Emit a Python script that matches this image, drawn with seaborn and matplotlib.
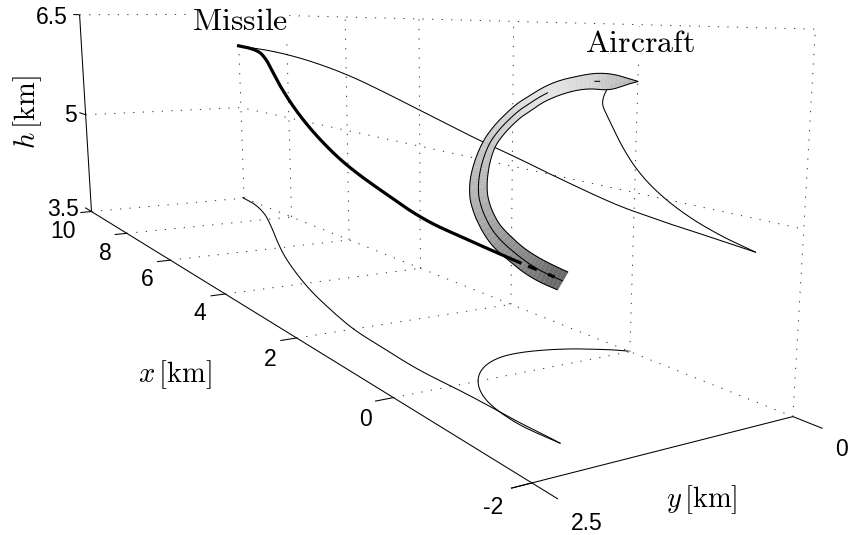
import numpy as np
import matplotlib
matplotlib.use("Agg")
import matplotlib.pyplot as plt
import seaborn as sns
from mpl_toolkits.mplot3d.art3d import Poly3DCollection

# ---- data (km) ----
missile_x = [10.08,9.33,8.48,7.42,6.47,5.67,5.00,4.35,3.84,3.33,2.92,2.49,2.11,1.78,1.50,1.23,0.96,0.71,0.48,0.26,0.07,-0.13,-0.33,-0.51,-0.70,-0.87,-1.04,-1.20,-1.36,-1.52]
missile_y = [0.00,0.04,0.23,0.56,0.87,1.12,1.30,1.46,1.58,1.68,1.75,1.82,1.88,1.91,1.92,1.93,1.95,1.96,1.96,1.96,1.94,1.94,1.93,1.93,1.93,1.93,1.93,1.92,1.91,1.91]
missile_h = [6.00,5.98,5.97,5.90,5.81,5.71,5.60,5.49,5.41,5.32,5.25,5.18,5.13,5.08,5.03,4.99,4.95,4.91,4.88,4.85,4.83,4.82,4.80,4.79,4.78,4.77,4.76,4.75,4.74,4.73]
aircraft_x = [0.02,0.07,0.12,0.17,0.21,0.25,0.30,0.34,0.37,0.40,0.43,0.45,0.47,0.49,0.50,0.50,0.50,0.47,0.41,0.33,0.21,0.04,-0.12,-0.30,-0.44,-0.58,-0.70,-0.81,-0.91,-1.02,-1.11,-1.19,-1.27,-1.35,-1.44,-1.52]
aircraft_y = [0.00,0.04,0.09,0.15,0.21,0.27,0.33,0.39,0.46,0.52,0.59,0.66,0.73,0.81,0.88,0.98,1.07,1.17,1.29,1.41,1.54,1.66,1.76,1.83,1.88,1.91,1.93,1.94,1.95,1.96,1.95,1.95,1.94,1.93,1.92,1.91]
aircraft_h = [6.00,6.00,5.99,5.98,5.98,5.97,5.96,5.95,5.94,5.93,5.92,5.89,5.86,5.83,5.80,5.77,5.74,5.71,5.65,5.55,5.40,5.24,5.14,5.05,4.99,4.94,4.90,4.87,4.84,4.82,4.80,4.78,4.77,4.76,4.74,4.73]
wing_a_y = [-0.02,0.03,0.08,0.13,0.21,0.28,0.35,0.42,0.48,0.54,0.62,0.70,0.76,0.80,0.86,0.92,0.98,1.05,1.26,1.42,1.58,1.75,1.85,1.91,1.95,1.99,2.00,2.01,2.00,2.01,2.01,2.00,1.99,1.97,1.95,1.96]
wing_a_h = [6.00,6.02,6.04,6.06,6.07,6.07,6.06,6.04,6.03,6.01,5.99,5.95,5.92,5.89,5.86,5.83,5.80,5.77,5.65,5.55,5.42,5.25,5.13,5.03,4.97,4.91,4.86,4.82,4.79,4.77,4.74,4.72,4.70,4.68,4.67,4.67]
wing_b_y = [-0.02,0.03,0.07,0.14,0.22,0.27,0.33,0.39,0.44,0.50,0.57,0.63,0.68,0.73,0.77,0.83,0.90,0.96,1.16,1.31,1.44,1.57,1.68,1.75,1.80,1.85,1.87,1.88,1.89,1.90,1.90,1.90,1.91,1.90,1.88,1.87]
wing_b_h = [6.00,5.98,5.96,5.92,5.92,5.93,5.93,5.92,5.91,5.89,5.87,5.84,5.82,5.79,5.76,5.73,5.70,5.68,5.57,5.48,5.38,5.23,5.15,5.07,5.02,4.98,4.95,4.92,4.89,4.87,4.85,4.84,4.83,4.82,4.80,4.79]
ribbon_gray = [0.72,0.73,0.75,0.76,0.79,0.83,0.84,0.85,0.86,0.88,0.89,0.89,0.89,0.89,0.88,0.88,0.86,0.84,0.82,0.79,0.76,0.73,0.70,0.67,0.65,0.62,0.60,0.57,0.55,0.52,0.50,0.47,0.45,0.42,0.39]
x_ticks = [10, 8, 6, 4, 2, 0, -2]
h_ticks = [3.5, 5, 6.5]
x_tick_labels = ["10", "8", "6", "4", "2", "0", "-2"]
h_tick_labels = ["3.5", "5", "6.5"]
y_tick_labels = ["2.5", "0"]

# camera of the reference view: data (x, y, h) -> figure pixels
CAMERA = np.array([[-18.354369, -106.56592, -7.530348, 619.767019],
                   [0.12659, -0.333675, -103.111264, 692.20972],
                   [0.073691, -0.044363, -0.016544, 1.0]])

W, H = 848, 535
K = 6  # drawn vertices per read value


def curve(values, passes=2):
    """Even out reading noise, then draw the read values as a smooth curve."""
    a = np.array(values, float)
    for _ in range(passes):
        a[1:-1] = (a[:-2] + 2 * a[1:-1] + a[2:]) / 4
    p = np.r_[2 * a[0] - a[1], a, 2 * a[-1] - a[-2]]
    out = []
    for i in range(len(a) - 1):
        for f in np.arange(K) / K:
            p0, p1, p2, p3 = p[i], p[i + 1], p[i + 2], p[i + 3]
            out.append(0.5 * (2 * p1 + (p2 - p0) * f + (2 * p0 - 5 * p1 + 4 * p2 - p3) * f ** 2
                              + (3 * p1 - p0 - 3 * p2 + p3) * f ** 3))
    out.append(a[-1])
    return np.array(out)


mx, my, mh = curve(missile_x, 1), curve(missile_y, 1), curve(missile_h, 1)
ax_, ay_, ah_ = curve(aircraft_x), curve(aircraft_y), curve(aircraft_h)
ua, ha = curve(wing_a_y, 1), curve(wing_a_h, 1)
ub, hb = curve(wing_b_y, 1), curve(wing_b_h, 1)
cy, ch = (ua + ub) / 2, (ha + hb) / 2

sns.set_theme(style="white", rc={"mathtext.fontset": "cm"})
fig = plt.figure(figsize=(W / 100, H / 100), dpi=100, facecolor="white")
ax = fig.add_axes([0, 0, 1, 1], projection="3d", computed_zorder=False, proj_type="ortho")
ax.set_xlim(-2, 10); ax.set_ylim(0, 2.5); ax.set_zlim(3.5, 6.5)
ax.set_axis_off()
ax.apply_aspect()
T = ax.transData.inverted().get_matrix() @ np.array([[1, 0, 0], [0, -1, H], [0, 0, 1.0]])
TP = T @ CAMERA
M = np.vstack([TP[0], TP[1], np.r_[CAMERA[2, :3], 0.0], TP[2]])
ax.get_proj = lambda: M


def line(xs, ys, zs, **kw):
    n = max(np.size(xs), np.size(ys), np.size(zs))
    kw.setdefault("color", "black"); kw.setdefault("lw", 0.75)
    ax.plot(np.broadcast_to(xs, n), np.broadcast_to(ys, n), np.broadcast_to(zs, n),
            clip_on=False, solid_capstyle="butt", **kw)


dot = dict(color="0.2", lw=0.7, ls=(0, (1.3, 8.5)), zorder=1)
for hv in h_ticks:
    line([10, 10, -2], [2.5, 0, 0], hv, **dot)
for xv in x_ticks:
    line(xv, 0, [3.5, 6.5], **dot)
for xv in x_ticks[1:-1]:
    line(xv, [2.5, 0], 3.5, **dot)

# solid axes with their ticks
line(10, 2.5, [3.5, 6.5], zorder=2)
line([10, -2.3], 2.5, 3.5, zorder=2)
line(-2, [0, 2.67], 3.5, zorder=2)
line([-2, -2.3], 0, 3.5, zorder=2)
for xv in x_ticks:
    line(xv, [2.5, 2.67], 3.5, zorder=2)
for hv in h_ticks:
    line([10, 10.4], 2.5, hv, zorder=2)

# projections on the floor and on the wall
line(mx, my, 3.5, zorder=2)
line(mx, 0, mh, zorder=2)
line(ax_, ay_, 3.5, zorder=2)
line(ax_, 0, ah_, zorder=2)

# aircraft ribbon
quads = []
for i in range(len(ax_) - 1):
    quads.append([(ax_[i], ua[i], ha[i]), (ax_[i + 1], ua[i + 1], ha[i + 1]),
                  (ax_[i + 1], ub[i + 1], hb[i + 1]), (ax_[i], ub[i], hb[i])])
gray_dense = np.interp(np.arange(len(quads)) / K, np.arange(len(ribbon_gray)), ribbon_gray)
grays = [str(round(g, 3)) for g in gray_dense]
ax.add_collection3d(Poly3DCollection(quads, facecolors=grays, edgecolors=grays, linewidths=0.3, zorder=3, clip_on=False))
for i in range(K // 2, len(ax_) - 1, K // 2):
    line(ax_[i], [ua[i], ub[i]], [ha[i], hb[i]], color="white", lw=0.4, alpha=0.22, zorder=3)
line(ax_, ua, ha, zorder=4)
line(ax_, ub, hb, zorder=4)
line(ax_[11 * K:], cy[11 * K:], ch[11 * K:], zorder=4)
line(ax_[int(4.5 * K):int(5.4 * K)], cy[int(4.5 * K):int(5.4 * K)], ch[int(4.5 * K):int(5.4 * K)], zorder=4)

# missile: solid, then dashed up to the interception
solid, dash1, dash2 = slice(0, 26 * K), slice(int(26.4 * K), int(27.2 * K)), slice(int(27.9 * K), int(28.5 * K))
for part in (solid, dash1, dash2):
    line(mx[part], my[part], mh[part], lw=2.3, zorder=5)
ax.set_xlim(-2, 10); ax.set_ylim(0, 2.5); ax.set_zlim(3.5, 6.5)


def label(u, v, s, **kw):
    kw.setdefault("ha", "center"); kw.setdefault("va", "center")
    fig.text(u / W, 1 - v / H, s, **kw)


tick = dict(family="Liberation Sans", fontsize=16.5, color="black")
for s, (u, v) in zip(h_tick_labels, [(63, 209), (70, 115), (52, 17)]):
    label(u, v, s, **tick)
for s, (u, v) in zip(x_tick_labels, [(63, 231), (105, 253), (147, 280), (200, 314), (270, 359), (365, 420), (493, 508)]):
    label(u, v, s, **tick)
for s, (u, v) in zip(y_tick_labels, [(587, 523), (841, 449)]):
    label(u, v, s, **tick)

cm = dict(fontsize=20.5, color="black")
box = dict(facecolor="white", edgecolor="none", pad=0.5)
label(240, 22, r"$\mathrm{Missile}$", bbox=box, fontsize=23, color="black")
label(640, 43, r"$\mathrm{Aircraft}$", bbox=box, fontsize=23, color="black")
label(28, 112, r"$h\,[\mathrm{km}]$", rotation=90, **cm)
label(175, 375, r"$x\,[\mathrm{km}]$", **cm)
label(702, 500, r"$y\,[\mathrm{km}]$", **cm)

fig.savefig("out.png", dpi=100)
